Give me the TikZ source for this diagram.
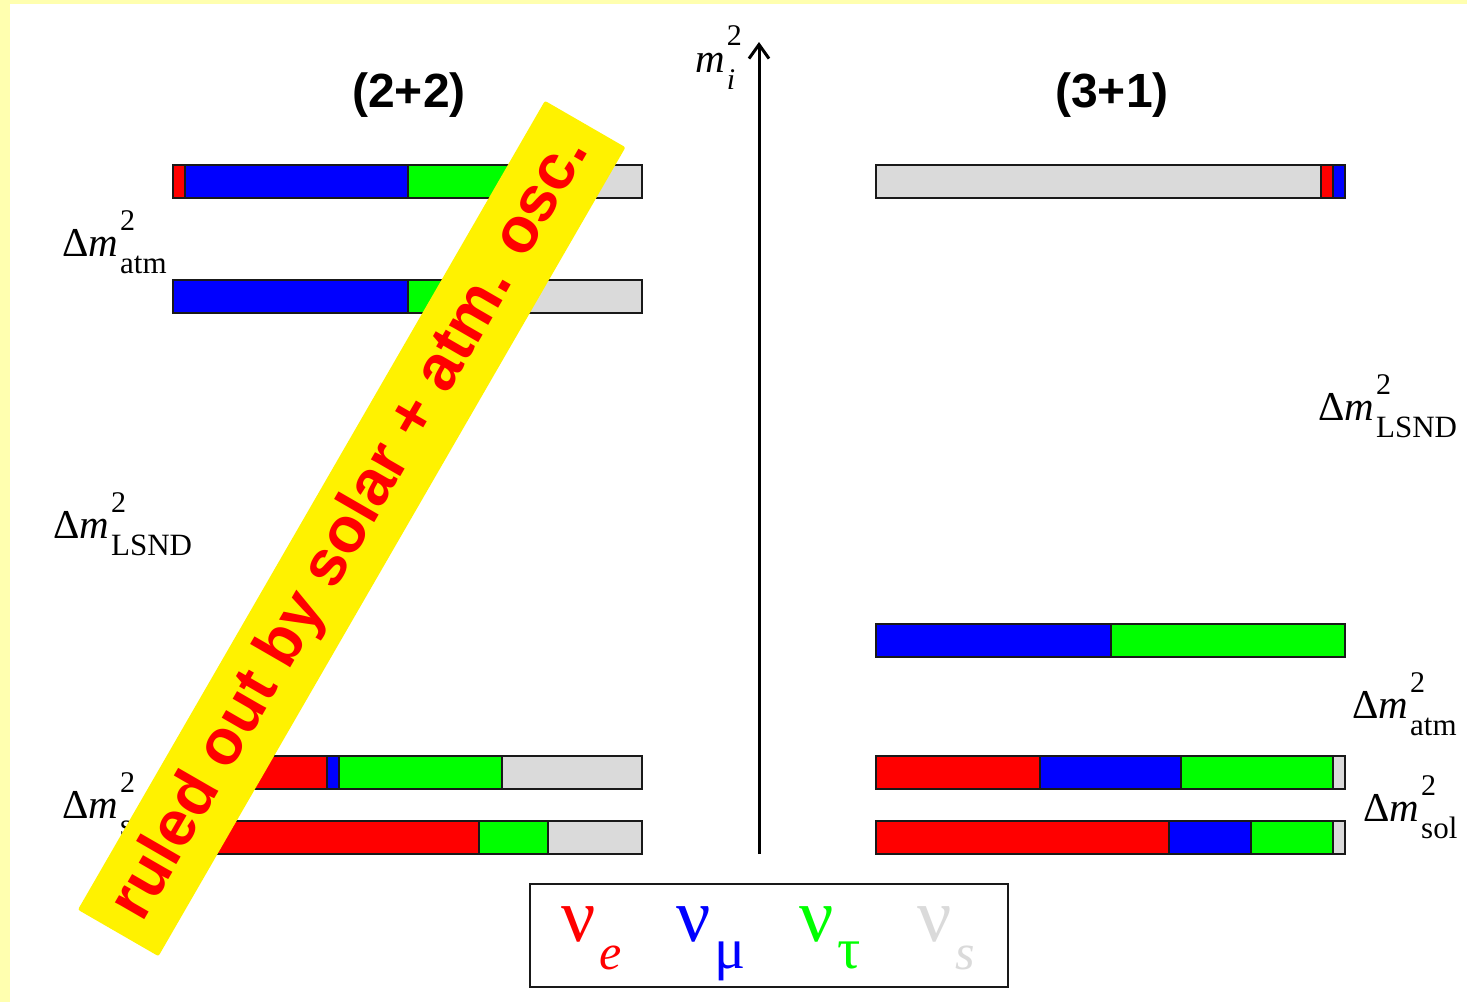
\documentclass[tikz,border=0pt]{standalone}
\usepackage{fontspec}
\setmainfont{Liberation Serif}
\setsansfont{Liberation Sans}
\usetikzlibrary{arrows.meta}
\definecolor{bgyellow}{RGB}{255,255,175}
\definecolor{banneryellow}{RGB}{255,242,0}
\definecolor{nue}{RGB}{255,0,0}
\definecolor{numu}{RGB}{0,0,255}
\definecolor{nutau}{RGB}{0,255,0}
\definecolor{nus}{RGB}{218,218,218}
\definecolor{edge}{RGB}{25,25,25}
\newcommand{\dmsq}[1]{{\fontsize{41}{41}\selectfont Δ\textit{m}}\kern2pt\rlap{\raisebox{26pt}{\fontsize{30}{30}\selectfont 2}}\raisebox{-17pt}{\fontsize{31}{31}\selectfont #1}}
\newcommand{\nusym}{{\fontsize{76}{76}\selectfont ν}}
\newcommand{\legsub}[1]{\kern4pt\raisebox{-28pt}{\fontsize{50}{50}\selectfont #1}}
\newcommand{\legsubg}[1]{\kern4pt\raisebox{-27pt}{\fontsize{58}{58}\selectfont #1}}
\newcommand{\segm}[4]{\draw[seg,fill=#4] (#1,#3) rectangle (#2,{#3+33});}
\tikzset{
  seg/.style={draw=edge, line width=1.8pt},
  dmlabel/.style={anchor=base west, inner sep=0pt, text=black},
  titlebox/.style={font=\sffamily\bfseries\fontsize{48}{48}\selectfont, anchor=base, inner sep=0pt},
  legnu/.style={anchor=base west, inner sep=0pt},
  banner/.style={fill=banneryellow, rotate=60, minimum width=934pt, minimum height=93pt,
    inner sep=0pt, rounded corners=2pt, text=nue, font=\sffamily\bfseries\fontsize{64}{64}\selectfont},
  legendbox/.style={draw=edge, line width=2pt, minimum width=478pt, minimum height=103pt, inner sep=0pt},
  axis/.style={line width=3pt, -{Straight Barb[length=14pt,width=20pt]}}
}
\begin{document}
\begin{tikzpicture}[x=1pt,y=-1pt]
\useasboundingbox (0,0) rectangle (1467,1002);
\fill[bgyellow] (0,0) rectangle (1467,1002);
\fill[white] (10,4) rectangle (1467,1002);

% left (2+2) bars
\segm{173}{185}{165}{nue}
\segm{185}{408}{165}{numu}
\segm{408}{520}{165}{nutau}
\segm{520}{642}{165}{nus}
\segm{173}{408}{280}{numu}
\segm{408}{500}{280}{nutau}
\segm{500}{642}{280}{nus}
\segm{173}{327}{756}{nue}
\segm{327}{339}{756}{numu}
\segm{339}{502}{756}{nutau}
\segm{502}{642}{756}{nus}
\segm{173}{479}{821}{nue}
\segm{479}{548}{821}{nutau}
\segm{548}{642}{821}{nus}

% right (3+1) bars
\segm{876}{1321}{165}{nus}
\segm{1321}{1333}{165}{nue}
\segm{1333}{1345}{165}{numu}
\segm{876}{1111}{624}{numu}
\segm{1111}{1345}{624}{nutau}
\segm{876}{1040}{756}{nue}
\segm{1040}{1181}{756}{numu}
\segm{1181}{1333}{756}{nutau}
\segm{1333}{1345}{756}{nus}
\segm{876}{1169}{821}{nue}
\segm{1169}{1251}{821}{numu}
\segm{1251}{1333}{821}{nutau}
\segm{1333}{1345}{821}{nus}

% axis
\coordinate (axbot) at (759,854);
\coordinate (axtop) at (759,42);
\draw[axis] (axbot) -- (axtop);
\node[dmlabel] (mi) at (695,72) {{\fontsize{41}{41}\selectfont\textit{m}}\kern2pt\rlap{\raisebox{27pt}{\fontsize{30}{30}\selectfont 2}}\raisebox{-17pt}{\fontsize{30}{30}\selectfont\textit{i}}};

% titles
\node[titlebox] (t22) at (409,107) {(2+2)};
\node[titlebox] (t31) at (1112,107) {(3+1)};

% labels
\node[dmlabel] (latm) at (62,256) {\dmsq{atm}};
\node[dmlabel] (llsnd) at (53,538) {\dmsq{LSND}};
\node[dmlabel] (lsol) at (62,818) {\dmsq{sol}};
\node[dmlabel] (rlsnd) at (1318,420) {\dmsq{LSND}};
\node[dmlabel] (ratm) at (1352,718) {\dmsq{atm}};
\node[dmlabel] (rsol) at (1363,821) {\dmsq{sol}};

% legend
\node[legendbox] (legend) at (769,935.5) {};
\node[legnu, text=nue] (le) at (561,941) {\nusym\legsub{\textit{e}}};
\node[legnu, text=numu] (lmu) at (676,941) {\nusym\legsubg{μ}};
\node[legnu, text=nutau] (ltau) at (799,941) {\nusym\legsubg{τ}};
\node[legnu, text=nus] (ls) at (917,941) {\nusym\legsub{\textit{s}}};

% banner
\node[banner] (ban) at (351.7,528.5) {ruled out by solar + atm. osc.};
\end{tikzpicture}
\end{document}
